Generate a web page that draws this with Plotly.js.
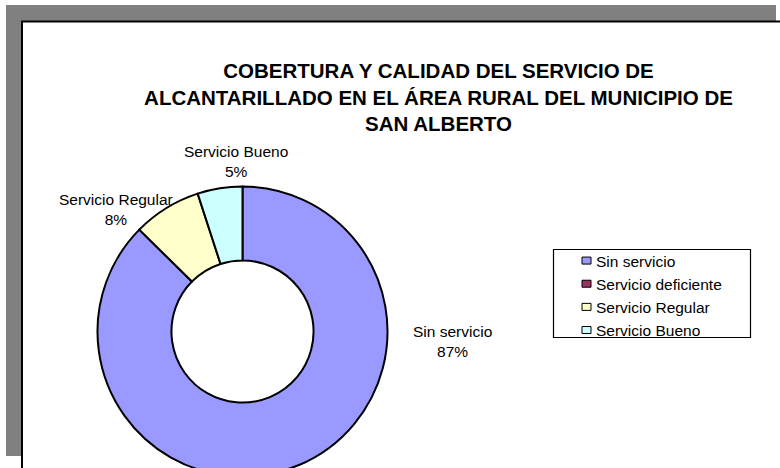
<!DOCTYPE html>
<html>
<head>
<meta charset="utf-8">
<script src="https://cdn.plot.ly/plotly-3.0.1.min.js"></script>
<style>
  html, body { margin: 0; padding: 0; background: #ffffff; overflow: hidden; }
  #chart { width: 780px; height: 520px; }
</style>
</head>
<body>
<div id="chart"></div>
<script>
// ---- data ----
const categories = ['Sin servicio', 'Servicio deficiente', 'Servicio Regular', 'Servicio Bueno'];
const values = [87.4, 0, 7.6, 5.0];
const titleLines = ['COBERTURA Y CALIDAD DEL SERVICIO DE', 'ALCANTARILLADO EN EL ÁREA RURAL DEL MUNICIPIO DE', 'SAN ALBERTO'];

// ---- styles / layout helpers ----
const sliceColors = ['#9999FF', '#993366', '#FFFFCC', '#CCFFFF'];
const W = 780, H = 520;
const px = x => x / W;
const py = y => 1 - y / H;
const FONT = 'Liberation Sans, Arial, sans-serif';

// pie geometry (pixels)
const cx = 242.5, cy = 331.5, R = 145;

// label placement for each category (pixels, centre of text block); null = not shown
const labelPos = [[452, 341], null, [116, 209], [236, 161]];

const total = values.reduce((a, b) => a + b, 0);
const annotations = [];
categories.forEach((c, i) => {
  if (!labelPos[i]) return;
  const pct = Math.round(values[i] / total * 100);
  annotations.push({
    xref: 'paper', yref: 'paper',
    x: px(labelPos[i][0]), y: py(labelPos[i][1]),
    xanchor: 'center', yanchor: 'middle',
    text: c + '<br>' + pct + '%',
    showarrow: false,
    align: 'center',
    font: {family: FONT, size: 15.5, color: '#000000'}
  });
});

const trace = {
  type: 'pie',
  labels: categories,
  values: values,
  sort: false,
  direction: 'clockwise',
  rotation: 0,
  hole: 0.49,
  textinfo: 'none',
  hoverinfo: 'label+percent',
  marker: {colors: sliceColors, line: {color: '#000000', width: 2}},
  domain: {x: [px(cx - R), px(cx + R)], y: [py(cy + R), py(cy - R)]},
  showlegend: true
};

const layout = {
  width: W, height: H,
  margin: {l: 0, r: 0, t: 0, b: 0, pad: 0},
  paper_bgcolor: '#ffffff',
  plot_bgcolor: 'rgba(0,0,0,0)',
  title: {
    text: '<b>' + titleLines.join('<br>') + '</b>',
    font: {family: FONT, size: 20.5, color: '#000000'},
    x: px(438.5), xanchor: 'center', xref: 'container',
    y: 1 - 78 / H, yanchor: 'top', yref: 'container'
  },
  showlegend: true,
  legend: {
    x: px(556), xanchor: 'left',
    y: py(244), yanchor: 'top',
    bgcolor: 'rgba(0,0,0,0)',
    borderwidth: 0,
    font: {family: FONT, size: 15.5, color: '#000000'},
    traceorder: 'normal'
  },
  annotations: annotations,
  shapes: [
    // gray shadow frame
    {type: 'rect', xref: 'paper', yref: 'paper', layer: 'below',
     x0: px(6), x1: px(776), y0: py(456), y1: py(5),
     fillcolor: '#808080', line: {width: 0}},
    // white chart area with black border
    {type: 'rect', xref: 'paper', yref: 'paper', layer: 'below',
     x0: px(22), x1: px(800), y0: py(560), y1: py(21.5),
     fillcolor: '#ffffff', line: {color: '#000000', width: 2}},
    // legend box
    {type: 'rect', xref: 'paper', yref: 'paper', layer: 'below',
     x0: px(553.5), x1: px(750.5), y0: py(337.5), y1: py(249.5),
     fillcolor: 'rgba(0,0,0,0)', line: {color: '#000000', width: 1.2}}
  ]
};

Plotly.newPlot('chart', [trace], layout, {displayModeBar: false, staticPlot: true}).then(function () {
  // smaller legend keys, closer to the text, as in the original
  document.querySelectorAll('#chart path.legendpie').forEach(function (p) {
    p.setAttribute('d', 'M4.5,3.5H-4.5V-3.5H4.5Z');
    p.setAttribute('transform', 'translate(30.5,0)');
    p.style.strokeWidth = '1px';
  });
});
</script>
</body>
</html>
